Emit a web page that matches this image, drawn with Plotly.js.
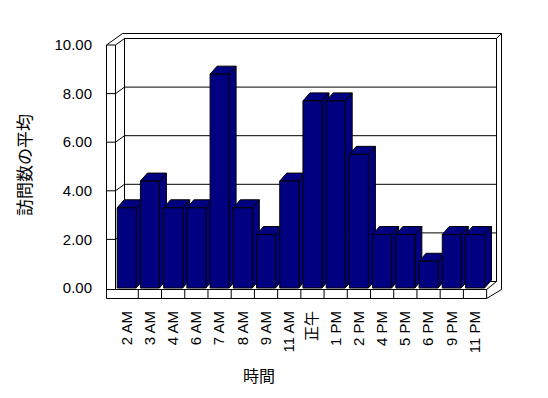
<!DOCTYPE html>
<html><head><meta charset="utf-8">
<script src="https://cdn.plot.ly/plotly-3.0.1.min.js"></script>
<style>html,body{margin:0;padding:0;background:#fff}#chart{width:548px;height:398px}</style>
</head><body><div id="chart"></div>
<script>
// ---- data ----
const categories = ["2 AM","3 AM","4 AM","6 AM","7 AM","8 AM","9 AM","11 AM","正午","1 PM","2 PM","4 PM","5 PM","6 PM","9 PM","11 PM"];
const visits = [3.3,4.4,3.3,3.3,8.8,3.3,2.2,4.4,7.7,7.7,5.5,2.2,2.2,1.1,2.2,2.2];
const yTicks = [0,2,4,6,8,10];
const xTitle = "時間";
const yTitle = "訪問数の平均";

// ---- geometry calibration (pixels) ----
const X0 = 126.7, XS = 23.22, Y0 = 288, YS = 24.3;
const L = 100, R = 510, T = 28, B = 302;
const px2x = p => (p - X0) / XS;
const px2y = p => (Y0 - p) / YS;
const xRange = [px2x(L), px2x(R)], yRange = [px2y(B), px2y(T)];
const BW = 19 / XS;              // bar front width (category units)
const DX = 7 / XS, DY = 8 / YS;  // bar depth offset
const NAVY = '#000080';
const idx = categories.map((c, i) => i);

// ---- 3D faces of the bars ----
const sideX = [], sideY = [], topX = [], topY = [];
idx.forEach(i => {
  const v = visits[i], l = i - BW / 2, r = i + BW / 2;
  sideX.push(r, r, r + DX, r + DX, r, null);
  sideY.push(0, v, v + DY, DY, 0, null);
  topX.push(l, l + DX, r + DX, r, l, null);
  topY.push(v, v + DY, v + DY, v, v, null);
});

// ---- frame (walls / floor) ----
const shapes = [];
function seg(x1, y1, x2, y2) {
  shapes.push({type: 'line', xref: 'x', yref: 'y', layer: 'below',
    x0: px2x(x1), y0: px2y(y1), x1: px2x(x2), y1: px2y(y2),
    line: {color: '#000', width: 1}});
}
const WF = 106.5, WM = 115.5, WB = 124.5, WR = 496.5, WRO = 501.5, TOPO = 33.5, BK = 6.5;
// back wall
seg(WB, 38.5, WR, 38.5);
seg(WB, 38.5, WB, 281.5);
seg(WR, 38.5, WR, 281.5);
seg(122.5, TOPO, WRO, TOPO);
seg(WRO, TOPO, WRO, 289.5);
seg(WR, 38.5, WRO, TOPO);
// left wall
seg(WF, 45, WF, 298.5);
seg(WM, 45, WM, 289.5);
seg(WF, 45, 122.5, TOPO);
yTicks.forEach(v => {
  const yf = Y0 - YS * v, yb = yf - BK;
  seg(WB, yb, WR, yb);
  if (v > 0) { seg(WF, yf, WM, yf); seg(WM, yf, WB, yb); }
});
// floor strip
const floorR = X0 + XS * (categories.length - 0.5);
seg(WF, 289.5, floorR, 289.5);
seg(WF, 298.5, floorR, 298.5);
seg(floorR, 289.5, floorR, 298.5);
seg(floorR, 298.5, WRO, 289.5);
seg(floorR, 289.5, WR, 281.5);
idx.slice(0, -1).forEach(i => {
  shapes.push({type: 'line', xref: 'x', yref: 'y', layer: 'below',
    x0: i + 0.5, x1: i + 0.5, y0: px2y(289.5), y1: px2y(298.5),
    line: {color: '#000', width: 1}});
});

const faceLine = {color: '#000', width: 1};
const data = [
  {type: 'scatter', x: sideX, y: sideY, mode: 'lines', fill: 'toself', fillcolor: NAVY,
   line: faceLine, hoverinfo: 'skip', showlegend: false},
  {type: 'scatter', x: topX, y: topY, mode: 'lines', fill: 'toself', fillcolor: NAVY,
   line: faceLine, hoverinfo: 'skip', showlegend: false},
  {type: 'bar', x: idx, y: visits, width: BW, yaxis: 'y2', name: yTitle,
   marker: {color: NAVY, line: {color: '#000', width: 1}}, showlegend: false,
   textposition: 'none', customdata: categories,
   hovertemplate: '%{customdata}: %{y:.2f}<extra></extra>'}
];

const tickFont = {family: 'Liberation Sans, Arial, Noto Sans CJK JP, sans-serif', size: 15, color: '#000'};
const layout = {
  width: 548, height: 398,
  margin: {l: L, r: 548 - R, t: T, b: 398 - B, pad: 0},
  paper_bgcolor: '#fff', plot_bgcolor: '#fff',
  showlegend: false,
  xaxis: {range: xRange, tickmode: 'array', tickvals: idx, ticktext: categories,
          tickangle: -90, showgrid: false, zeroline: false, showline: false,
          ticks: '', ticklabelstandoff: 5, tickfont: tickFont, fixedrange: true},
  yaxis: {range: yRange, tickmode: 'array', tickvals: yTicks,
          ticktext: yTicks.map(v => v.toFixed(2)),
          showgrid: false, zeroline: false, showline: false, ticks: '',
          ticklabelstandoff: 7, tickfont: tickFont, fixedrange: true,
          title: {text: yTitle, standoff: 18,
                  font: {family: 'Noto Sans CJK JP, sans-serif', size: 17, color: '#000'}}},
  yaxis2: {range: yRange, overlaying: 'y', visible: false, fixedrange: true},
  shapes: shapes,
  annotations: [{text: xTitle, xref: 'paper', yref: 'paper',
                 x: (259 - L) / (R - L), y: (B - 375) / (B - T),
                 xanchor: 'center', yanchor: 'middle', showarrow: false,
                 font: {family: 'Noto Sans CJK JP, sans-serif', size: 16, color: '#000'}}]
};
Plotly.newPlot('chart', data, layout, {displayModeBar: false, staticPlot: true});
</script>
</body></html>
